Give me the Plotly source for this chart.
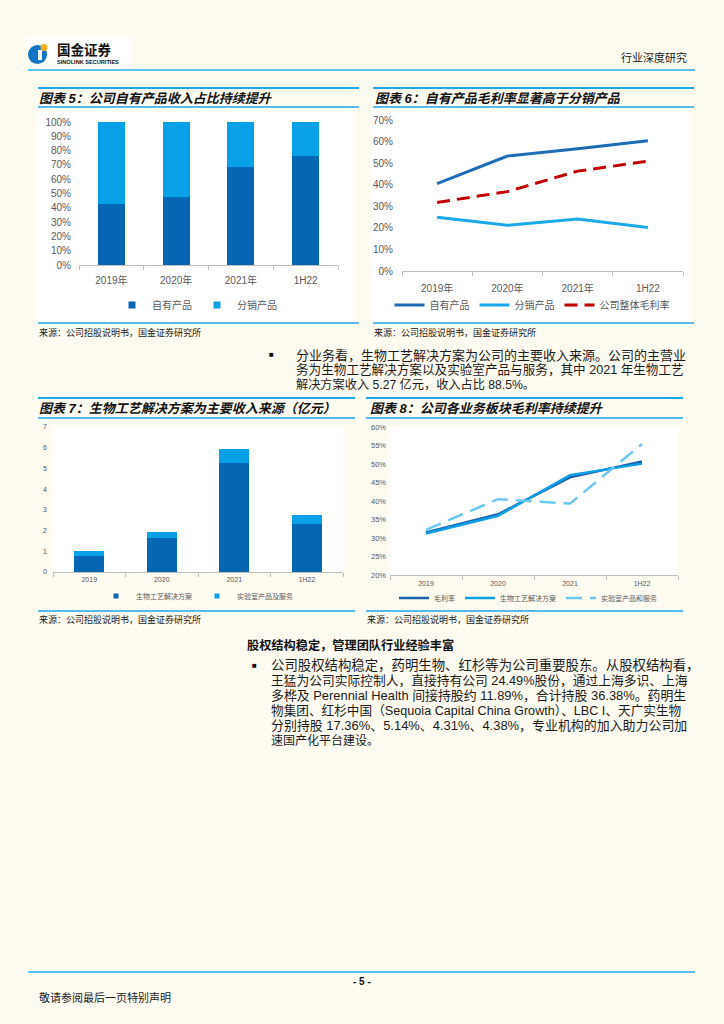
import plotly.graph_objects as go

W, H = 724, 1024
BG = "#FEFBF1"
DARK = "#0567B3"
LIGHT = "#08A1E8"
LINEBLUE = "#1EA6E8"
TICK = "#595959"
AXIS = "#BFBFBF"
CJK = "Liberation Sans, Noto Sans CJK SC"

# ---------------- data ----------------
years_a = ["2019年", "2020年", "2021年", "1H22"]
own_share = [43.0, 47.7, 68.2, 76.2]      # 自有产品 %
dist_share = [57.0, 52.3, 31.8, 23.8]     # 分销产品 %

gm_own = [40.5, 53.3, 56.7, 60.4]         # 自有产品毛利率 %
gm_dist = [24.9, 21.2, 24.1, 20.2]        # 分销产品毛利率 %
gm_total = [31.8, 36.8, 46.3, 50.9]       # 公司整体毛利率 %

years_b = ["2019", "2020", "2021", "1H22"]
rev_bio = [0.79, 1.65, 5.27, 2.30]        # 生物工艺解决方案 亿元
rev_lab = [0.23, 0.29, 0.68, 0.45]        # 实验室产品及服务 亿元

gm_all = [31.5, 36.4, 46.4, 50.7]         # 毛利率
gm_bio = [31.2, 36.0, 47.0, 50.1]         # 生物工艺解决方案
gm_lab = [32.2, 40.5, 39.3, 55.4]         # 实验室产品和服务


def px(x):
    return x / W


def py(y):
    return 1 - y / H


fig = go.Figure()

# ---- chart 5: stacked share bars
fig.add_bar(x=years_a, y=own_share, marker_color=DARK, name="自有产品",
            xaxis="x", yaxis="y", showlegend=False)
fig.add_bar(x=years_a, y=dist_share, marker_color=LIGHT, name="分销产品",
            xaxis="x", yaxis="y", showlegend=False)
for nm, c in [("自有产品", DARK), ("分销产品", LIGHT)]:
    fig.add_scatter(x=[None], y=[None], mode="markers", name=nm,
                    marker=dict(symbol="square", size=7, color=c),
                    xaxis="x", yaxis="y", legend="legend")

# ---- chart 6: gross margin lines
fig.add_scatter(x=years_a, y=gm_own, mode="lines", name="自有产品",
                line=dict(color="#1F6CB6", width=3), xaxis="x2", yaxis="y2", legend="legend2")
fig.add_scatter(x=years_a, y=gm_dist, mode="lines", name="分销产品",
                line=dict(color="#1AAAE9", width=3), xaxis="x2", yaxis="y2", legend="legend2")
fig.add_scatter(x=years_a, y=gm_total, mode="lines", name="公司整体毛利率",
                line=dict(color="#C00000", width=3, dash="13px,7px"),
                xaxis="x2", yaxis="y2", legend="legend2")

# ---- chart 7: revenue stacked bars
fig.add_bar(x=years_b, y=rev_bio, marker_color=DARK, name="生物工艺解决方案",
            xaxis="x3", yaxis="y3", showlegend=False)
fig.add_bar(x=years_b, y=rev_lab, marker_color=LIGHT, name="实验室产品及服务",
            xaxis="x3", yaxis="y3", showlegend=False)
for nm, c in [("生物工艺解决方案", DARK), ("实验室产品及服务", LIGHT)]:
    fig.add_scatter(x=[None], y=[None], mode="markers", name=nm,
                    marker=dict(symbol="square", size=5, color=c),
                    xaxis="x3", yaxis="y3", legend="legend3")

# ---- chart 8: segment gross margin
fig.add_scatter(x=years_b, y=gm_all, mode="lines", name="毛利率",
                line=dict(color="#1B62AD", width=2.5), xaxis="x4", yaxis="y4", legend="legend4")
fig.add_scatter(x=years_b, y=gm_bio, mode="lines", name="生物工艺解决方案",
                line=dict(color="#0E9FE4", width=2.5), xaxis="x4", yaxis="y4", legend="legend4")
fig.add_scatter(x=years_b, y=gm_lab, mode="lines", name="实验室产品和服务",
                line=dict(color="#6CC8F1", width=2.5, dash="16px,8px"),
                xaxis="x4", yaxis="y4", legend="legend4")


def xax(dom, anchor, fs, standoff):
    return dict(domain=[px(dom[0]), px(dom[1])], anchor=anchor, type="category",
                range=[-0.5, 3.5],
                showline=True, linecolor=AXIS, linewidth=1, ticks="outside",
                tickson="boundaries", ticklen=4, tickcolor=AXIS, showgrid=False,
                zeroline=False, tickfont=dict(size=fs, color=TICK, family=CJK),
                ticklabelstandoff=standoff, fixedrange=True, automargin=False)


def yax(top, bottom, anchor, rng, dtick, suffix, fs, standoff):
    return dict(domain=[py(bottom), py(top)], anchor=anchor, range=rng, dtick=dtick,
                ticksuffix=suffix, showline=False, showgrid=False, zeroline=False,
                ticks="", tickfont=dict(size=fs, color=TICK, family=CJK),
                ticklabelstandoff=standoff, fixedrange=True, automargin=False)


def leg(cx, cy, fs):
    return dict(orientation="h", x=px(cx), xanchor="center", y=py(cy), yanchor="middle",
                font=dict(size=fs, color=TICK, family=CJK), bgcolor="rgba(0,0,0,0)",
                itemwidth=30, tracegroupgap=0, traceorder="normal",
                itemclick=False, itemdoubleclick=False)


shapes = []
annots = []


def rect(x0, y0, x1, y1, color, layer="below"):
    shapes.append(dict(type="rect", xref="paper", yref="paper", x0=px(x0), x1=px(x1),
                       y0=py(y1), y1=py(y0), fillcolor=color, line=dict(width=0), layer=layer))


def hline(x0, x1, y, color, width):
    shapes.append(dict(type="line", xref="paper", yref="paper", x0=px(x0), x1=px(x1),
                       y0=py(y), y1=py(y), line=dict(color=color, width=width)))


def text(x, y, s, size, color="#111111", anchor="left", weight="normal", style="normal", family=CJK):
    annots.append(dict(xref="paper", yref="paper", x=px(x), y=py(y), text=s, showarrow=False,
                       xanchor=anchor, yanchor="middle", borderpad=0,
                       font=dict(size=size, color=color, family=family, weight=weight, style=style)))


# white chart areas (charts 5 and 6)
rect(37, 109, 354, 321, "white")
rect(372, 109, 690, 321, "white")

# header
rect(27, 37, 131, 68, "white")
shapes.append(dict(type="circle", xref="paper", yref="paper", x0=px(28), x1=px(47),
                   y0=py(64), y1=py(45), fillcolor="#1273C2", line=dict(width=0)))
rect(38, 50, 42, 60, "white", layer="above")
shapes.append(dict(type="circle", xref="paper", yref="paper", x0=px(40.5), x1=px(47.5),
                   y0=py(51), y1=py(44), fillcolor="#F6B024", line=dict(width=0)))
text(56, 50, "国金证券", 13.5, color="#111111", weight="bold")
text(56, 62, "SINOLINK SECURITIES", 5.6, color="#111111", weight="bold")
text(688, 57, "行业深度研究", 11, color="#222222", anchor="right")
hline(28, 695, 70, "#5BC3EE", 2.2)

# chart frames
for (x0, x1, ytop, yund, ybot) in [(38, 359, 88, 107, 323), (373, 694, 88, 107, 323),
                                   (38, 355, 398, 418, 611), (366, 683, 398, 418, 611)]:
    hline(x0, x1, ytop, LINEBLUE, 2)
    hline(x0, x1, yund, LINEBLUE, 1.5)
    hline(x0, x1, ybot, LINEBLUE, 1.5)

text(38, 98, "图表 5：公司自有产品收入占比持续提升", 13, weight="bold", style="italic")
text(374, 98, "图表 6：自有产品毛利率显著高于分销产品", 13, weight="bold", style="italic")
text(38, 408, "图表 7：生物工艺解决方案为主要收入来源（亿元）", 13, weight="bold", style="italic")
text(369, 408, "图表 8：公司各业务板块毛利率持续提升", 13, weight="bold", style="italic")

src = "来源：公司招股说明书，国金证券研究所"
text(38, 332, src, 9, color="#222222")
text(373, 332, src, 9, color="#222222")
text(38, 619, src, 9, color="#222222")
text(366, 619, src, 9, color="#222222")

BODY = "#1a1a1a"
# paragraph 1
text(268, 354, "■", 8, color="#111111")
para1 = ["分业务看，生物工艺解决方案为公司的主要收入来源。公司的主营业",
         "务为生物工艺解决方案以及实验室产品与服务，其中 2021 年生物工艺",
         "解决方案收入 5.27 亿元，收入占比 88.5%。"]
para1_size = [13, 12.6, 12.2]
for i, s in enumerate(para1):
    text(295, 355 + 14.5 * i, s, para1_size[i], color=BODY)

# section 2
text(246, 645, "股权结构稳定，管理团队行业经验丰富", 12.2, weight="bold")
text(251, 665, "■", 8, color="#111111")
para2 = ["公司股权结构稳定，药明生物、红杉等为公司重要股东。从股权结构看，",
         "王猛为公司实际控制人，直接持有公司 24.49%股份，通过上海多识、上海",
         "多桦及 Perennial Health 间接持股约 11.89%，合计持股 36.38%。药明生",
         "物集团、红杉中国（Sequoia Capital China Growth）、LBC I、天广实生物",
         "分别持股 17.36%、5.14%、4.31%、4.38%，专业机构的加入助力公司加",
         "速国产化平台建设。"]
para2_size = [13.4, 12.75, 12.9, 12.65, 12.95, 12.0]
for i, s in enumerate(para2):
    text(270, 665 + 15.1 * i, s, para2_size[i], color=BODY)

# footer
hline(28, 695, 972, "#5BC3EE", 2.2)
text(362, 981, "- 5 -", 10, color="#111111", anchor="center", weight="bold")
text(38, 997, "敬请参阅最后一页特别声明", 11, color="#222222")

fig.update_layout(
    template="none",
    width=W, height=H, margin=dict(l=0, r=0, t=0, b=0, pad=0, autoexpand=False),
    autosize=False,
    paper_bgcolor=BG, plot_bgcolor="white",
    barmode="stack", bargap=0.585,
    font=dict(family=CJK),
    xaxis=xax((79, 338), "y", 10, 6),
    yaxis=yax(122, 265, "x", [0, 100], 10, "%", 10, 7),
    xaxis2=xax((402, 683), "y2", 10, 8),
    yaxis2=yax(120, 271, "x2", [0, 70], 10, "%", 10, 8),
    xaxis3=xax((53, 343), "y3", 7, 1),
    yaxis3=yax(427, 572, "x3", [0, 7], 1, "", 7, 5),
    xaxis4=xax((390, 678), "y4", 7, 2),
    yaxis4=yax(427, 575, "x4", [20, 60], 5, "%", 7.5, 3),
    legend=leg(197, 305, 10),
    legend2=leg(532, 305, 10),
    legend3=leg(197, 596, 7),
    legend4=leg(528, 598, 7),
    shapes=shapes, annotations=annots,
)

fig.write_html("out.html", config={"displayModeBar": False, "responsive": False},
               post_script="document.body.style.margin='0px';document.body.style.background='" + BG + "';")
